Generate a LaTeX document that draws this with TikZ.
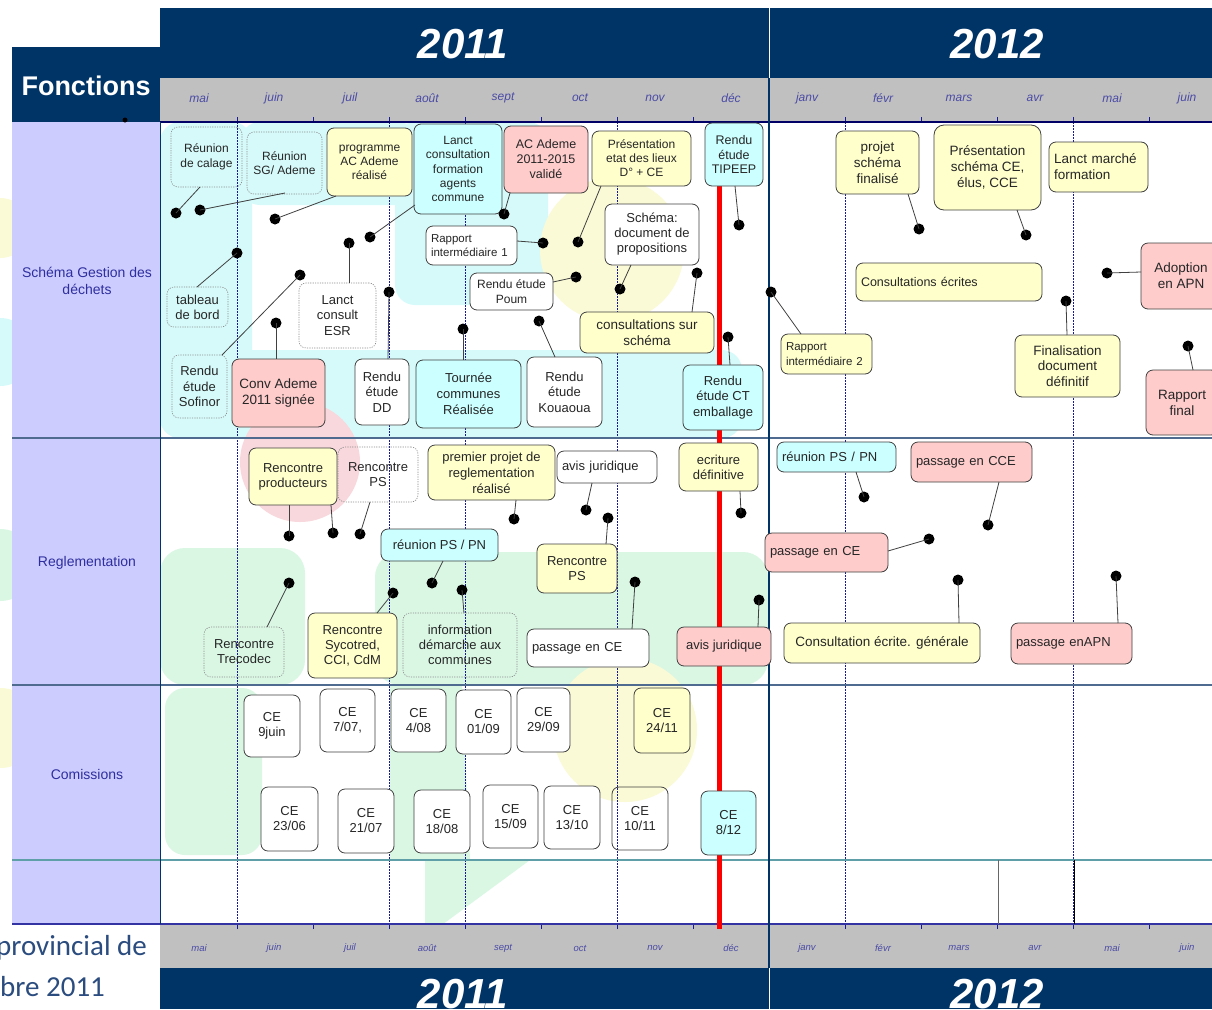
\documentclass[tikz,border=0pt]{standalone}
\usepackage{fontspec}
\setmainfont{Liberation Sans}
\newfontfamily\calib{Carlito}
\usetikzlibrary{calc}
\definecolor{navy}{HTML}{003366}
\definecolor{lav}{HTML}{CCCCFF}
\definecolor{bandgrey}{HTML}{C0C0C0}
\definecolor{boxyel}{HTML}{FFFFCC}
\definecolor{boxpink}{HTML}{FFCCCC}
\definecolor{boxcyan}{HTML}{CCFFFF}
\definecolor{monthc}{HTML}{4B4BA6}
\definecolor{labc}{HTML}{2E2E9E}
\definecolor{rowc}{HTML}{4F6B8F}
\definecolor{tealc}{HTML}{5E9FA8}
\definecolor{bgcyan}{HTML}{D6FAFA}
\definecolor{bgyel}{HTML}{FAFAD6}
\definecolor{bgpink}{HTML}{F8D8DC}
\definecolor{bggreen}{HTML}{DAF7E4}
\definecolor{foot}{HTML}{2B4C7E}
\definecolor{dotln}{HTML}{1A1A99}
\newcommand\fs[2]{\fontsize{#1}{#2}\selectfont}
\tikzset{
  bx/.style={draw=black!75, line width=0.8pt, rounded corners=7pt, align=center,
    inner sep=1pt, outer sep=0pt, font=\fs{13}{15}, text=black!85},
  wb/.style={bx, fill=white},
  yb/.style={bx, fill=boxyel},
  pb/.style={bx, fill=boxpink},
  cb/.style={bx, fill=boxcyan},
  db/.style={bx, draw=black!45, dash pattern=on 1.2pt off 1.2pt, line width=0.6pt},
  dot/.style={circle, fill=black, minimum size=11pt, inner sep=0pt, outer sep=0pt},
  conn/.style={draw=black!75, line width=0.8pt},
  mline/.style={draw=dotln, line width=0.8pt, dash pattern=on 1.5pt off 1.5pt},
  tickln/.style={draw=dotln, line width=0.8pt},
  rowln/.style={draw=rowc, line width=1.2pt},
  mtop/.style={font=\fs{12}{12}\itshape, text=monthc, inner sep=0pt},
  mbot/.style={font=\fs{9.5}{10}\itshape, text=monthc, inner sep=0pt},
  yr/.style={font=\fs{42}{42}\bfseries\itshape, text=white, inner sep=0pt},
  rowlab/.style={font=\fs{14}{16.5}, text=labc, align=center, inner sep=0pt},
}
% box: [extra] name style x1 y1 x2 y2 text
\newcommand\bx[8][]{\pgfmathsetmacro\bxw{#6-#4}\pgfmathsetmacro\bxh{#7-#5}%
  \node[#3,minimum width=\bxw pt,minimum height=\bxh pt,anchor=north west,#1] (#2) at (#4,#5) {#8};}
% left aligned box
\newcommand\bxl[8][]{\pgfmathsetmacro\bxw{#6-#4}\pgfmathsetmacro\bxh{#7-#5}\pgfmathsetmacro\bxt{#6-#4-10}%
  \node[#3,minimum width=\bxw pt,minimum height=\bxh pt,text width=\bxt pt,align=left,inner xsep=5pt,anchor=north west,#1] (#2) at (#4,#5) {#8};}
% dot
\newcommand\dt[3]{\node[dot] (#1) at (#2,#3) {};}
% connector: dot box dx dy (offset from box north west)
\newcommand\cn[4]{\draw[conn] (#1.center) -- ([xshift=#3pt,yshift=-#4pt]#2.north west);}
\begin{document}
\begin{tikzpicture}[x=1pt,y=-1pt]
\useasboundingbox (0,0) rectangle (1212,1009);
\fill[white] (0,0) rectangle (1212,1009);

% ---- soft background blobs
\fill[bgyel] (0,228) circle (30);
\fill[bgcyan] (0,352) circle (34);
\fill[bggreen] (0,565) circle (36);
\fill[bgyel] (0,728) circle (40);
\fill[bgcyan, rounded corners=20] (160,122) rectangle (252,438);
\fill[bgcyan, rounded corners=20] (240,122) rectangle (418,205);
\fill[bgcyan, rounded corners=20] (395,122) rectangle (548,305);
\fill[bgcyan, rounded corners=20] (160,350) rectangle (742,438);
\fill[bgyel] (612,250) circle (72);
\fill[bgpink] (300,462) circle (60);
\fill[bggreen, rounded corners=25] (160,548) rectangle (305,685);
\fill[bggreen, rounded corners=25] (375,552) rectangle (768,685);
\fill[bggreen, rounded corners=20] (165,688) rectangle (262,855);
\fill[bggreen] (390,686) -- (462,686) -- (470,860) -- (530,860) -- (435,930) -- (425,930) -- (425,860) -- (390,860) -- cycle;
\fill[bgyel] (625,730) circle (72);

% ---- frame
\fill[lav] (12,122) rectangle (160,924);
\fill[navy] (12,47) rectangle (160,122);
\fill[navy] (160,8) rectangle (1212,78);
\fill[bandgrey] (160,78) rectangle (1212,122);
\fill[bandgrey] (160,924) rectangle (1212,968);
\fill[navy] (160,968) rectangle (1212,1009);

\foreach \x in {237,389,465,617,845,1073} \draw[mline] (\x,122) -- (\x,924);
\foreach \x in {237,313,389,465,541,617,693,845,921,997,1073,1149} {
  \draw[tickln] (\x,117) -- (\x,123);
  \draw[tickln] (\x,923) -- (\x,929);
}
\draw[draw=blue!40!black, line width=1.2pt] (160,122) -- (1212,122);
\draw[rowln] (12,438) -- (1212,438);
\draw[rowln] (12,685) -- (1212,685);
\draw[draw=tealc, line width=1.2pt] (12,860) -- (1212,860);
\draw[draw=blue!55!black!80, line width=1.8pt] (12,924) -- (1212,924);
\draw[draw=navy, line width=1pt] (160,122) -- (160,924);
\draw[draw=navy, line width=1.2pt] (769,78) -- (769,968);
\draw[draw=white, line width=1pt] (769,8) -- (769,78);
\draw[draw=white, line width=1pt] (769,968) -- (769,1009);
\draw[draw=black!60, line width=1pt] (998,860) -- (998,924);
\draw[draw=black, line width=1pt] (1074,860) -- (1074,924);
\draw[draw=red, line width=5pt] (719,130) -- (719,929);

% ---- headers
\node[font=\fs{27}{27}\bfseries, text=white, inner sep=0pt] (fonct) at (86,86) {Fonctions};
\node[circle, fill=black, minimum size=5pt, inner sep=0pt] (fdot) at (125,120) {};
\node[yr] (y1) at (463,44) {2011};
\node[yr] (y2) at (997,44) {2012};
\node[yr] (y3) at (463,994) {2011};
\node[yr] (y4) at (997,994) {2012};
\foreach \x/\m [count=\i] in {199/mai,274/juin,350/juil,427/août,503/sept,580/oct,655/nov,731/déc,807/janv,883/févr,959/mars,1035/avr,1112/mai,1187/juin} {
  \node[mtop] (mt\i) at (\x,98) {\m};
  \node[mbot] (mb\i) at (\x,948) {\m};
}
\node[rowlab] (l1) at (87,281) {Schéma Gestion des\\déchets};
\node[rowlab] (l2) at (87,563) {Reglementation};
\node[rowlab] (l3) at (87,774) {Comissions};
\node[font=\calib\fs{29}{29}, text=foot, anchor=base west, inner sep=0pt] (ft1) at (-4,955) {provincial de};
\node[font=\calib\fs{29}{29}, text=foot, anchor=base west, inner sep=0pt] (ft2) at (0,996) {bre 2011};

% ---- Schéma row boxes
\bx[font=\fs{12}{14.5}]{rc}{db}{171}{127}{242}{187}{Réunion\\de calage}
\bx[font=\fs{12}{14.5}]{rsg}{db}{247}{132}{322}{194}{Réunion\\SG/ Ademe}
\bx[font=\fs{12}{14}]{prg}{yb}{327}{128}{412}{196}{programme\\AC Ademe\\réalisé}
\bx[font=\fs{12}{14.2}]{lcf}{cb}{414}{124}{502}{214}{Lanct\\consultation\\formation\\agents\\commune}
\bx[font=\fs{12.5}{15}]{aca}{pb}{504}{126}{588}{193}{AC Ademe\\2011-2015\\validé}
\bx[font=\fs{12}{14}]{pel}{yb}{592}{131}{691}{186}{Présentation\\etat des lieux\\D° + CE}
\bx[font=\fs{12.5}{14.5}]{tip}{cb}{705}{123}{763}{186}{Rendu\\étude\\TIPEEP}
\bxl[font=\fs{11.5}{14}]{ri1}{wb}{426}{226}{517}{265}{Rapport\\intermédiaire 1}
\bx[font=\fs{13}{15}]{sdp}{wb}{605}{204}{699}{265}{Schéma:\\document de\\propositions}
\bx[font=\fs{12}{14.5}]{poum}{wb}{470}{273}{553}{310}{Rendu étude\\Poum}
\bx[font=\fs{13.5}{15.5}]{css}{yb}{580}{312}{714}{353}{consultations sur\\schéma}
\bx[font=\fs{13}{15}]{tdb}{db}{167}{287}{228}{327}{tableau\\de bord}
\bx[font=\fs{13}{15.5}]{esr}{db}{299}{283}{376}{348}{Lanct\\consult\\ESR}
\bx[font=\fs{13}{15.5}]{sof}{db}{172}{355}{227}{418}{Rendu\\étude\\Sofinor}
\bx[font=\fs{13.5}{16}]{conv}{pb}{232}{359}{325}{427}{Conv Ademe\\2011 signée}
\bx[font=\fs{13}{15.5}]{dd}{wb}{355}{359}{409}{425}{Rendu\\étude\\DD}
\bx[font=\fs{13}{16}]{tour}{cb}{416}{360}{521}{428}{Tournée\\communes\\Réalisée}
\bx[font=\fs{13}{15.5}]{kou}{wb}{527}{357}{602}{427}{Rendu\\étude\\Kouaoua}
\bx[font=\fs{13}{15.5}]{ct}{cb}{683}{365}{763}{430}{Rendu\\étude CT\\emballage}
\bx[font=\fs{13.5}{16}]{psf}{yb}{836}{131}{919}{194}{projet\\schéma\\finalisé}
\bx[font=\fs{13.5}{16}, rounded corners=10pt]{psc}{yb}{934}{125}{1041}{210}{Présentation\\schéma CE,\\élus, CCE}
\bxl[font=\fs{13.5}{16}]{lmf}{yb}{1049}{142}{1148}{192}{Lanct marché\\formation}
\bxl[font=\fs{12.5}{15}]{cec}{yb}{856}{263}{1042}{301}{Consultations écrites}
\bxl[font=\fs{11.5}{15}, inner xsep=3pt]{ri2}{yb}{781}{334}{872}{374}{Rapport\\intermédiaire\ 2}
\bx[font=\fs{13.5}{16}]{apn}{pb}{1141}{243}{1221}{309}{Adoption\\en APN}
\bx[font=\fs{13.5}{15.5}]{fin}{yb}{1015}{335}{1120}{397}{Finalisation\\document\\définitif}
\bx[font=\fs{13.5}{16}]{rf}{pb}{1146}{370}{1218}{435}{Rapport\\final}

% ---- Reglementation row boxes
\bx{rp}{yb}{249}{448}{337}{505}{Rencontre\\producteurs}
\bx{rpsa}{db}{338}{447}{418}{502}{Rencontre\\PS}
\bx[font=\fs{13}{16}]{ppr}{yb}{428}{445}{555}{500}{premier projet de\\reglementation\\réalisé}
\bxl{aja}{wb}{557}{451}{657}{483}{avis juridique}
\bx{rpna}{cb}{381}{529}{498}{561}{réunion PS / PN}
\bx{rpsb}{yb}{537}{544}{617}{593}{Rencontre\\PS}
\bx{trec}{db}{204}{627}{284}{677}{Rencontre\\Trecodec}
\bx{syc}{yb}{308}{613}{397}{678}{Rencontre\\Sycotred,\\CCI, CdM}
\bx{inf}{db}{403}{613}{517}{677}{information\\démarche aux\\communes}
\bxl{pcea}{wb}{527}{629}{649}{667}{passage en CE}
\bx{ecr}{yb}{679}{443}{758}{491}{ecriture\\définitive}
\bx{ajb}{pb}{677}{627}{771}{666}{avis juridique}
\bxl{rpnb}{cb}{777}{442}{896}{472}{réunion PS / PN}
\bxl{pcce}{pb}{911}{442}{1032}{482}{passage en CCE}
\bxl{pceb}{pb}{765}{533}{888}{572}{passage en CE}
\bx[font=\fs{13.5}{15}]{ceg}{yb}{784}{623}{980}{663}{Consultation écrite. générale}
\bxl{papn}{pb}{1011}{623}{1132}{664}{passage enAPN}

% ---- Comissions
\bx{c1}{wb}{244}{695}{300}{757}{CE\\9juin}
\bx{c2}{wb}{320}{689}{375}{752}{CE\\7/07,}
\bx{c3}{wb}{391}{689}{446}{752}{CE\\4/08}
\bx{c4}{wb}{456}{690}{511}{754}{CE\\01/09}
\bx{c5}{wb}{517}{688}{570}{752}{CE\\29/09}
\bx{c6}{yb}{634}{688}{690}{753}{CE\\24/11}
\bx{c7}{wb}{261}{787}{318}{851}{CE\\23/06}
\bx{c8}{wb}{338}{789}{394}{853}{CE\\21/07}
\bx{c9}{wb}{414}{790}{470}{853}{CE\\18/08}
\bx{c10}{wb}{483}{785}{538}{848}{CE\\15/09}
\bx{c11}{wb}{544}{786}{600}{849}{CE\\13/10}
\bx{c12}{bx}{612}{787}{668}{850}{CE\\10/11}
\bx{c13}{cb}{701}{791}{756}{855}{CE\\8/12}

% ---- dots
\dt{d1}{176}{213} \dt{d2}{200}{210} \dt{d3}{275}{219} \dt{d4}{370}{237}
\dt{d5}{504}{214} \dt{d6}{578}{242} \dt{d7}{739}{225} \dt{d8}{543}{243}
\dt{d9}{620}{289} \dt{d10}{576}{277} \dt{d11}{697}{273} \dt{d12}{237}{253}
\dt{d13}{349}{243} \dt{d14}{300}{275} \dt{d15}{276}{323} \dt{d16}{389}{292}
\dt{d17}{463}{329} \dt{d18}{539}{321} \dt{d19}{728}{337} \dt{d20}{919}{229}
\dt{d21}{1026}{235} \dt{d22}{771}{292} \dt{d23}{1107}{273} \dt{d24}{1066}{301}
\dt{d25}{1188}{346}
\dt{d26}{289}{536} \dt{d27}{333}{533} \dt{d28}{360}{534} \dt{d29}{514}{519}
\dt{d30}{432}{583} \dt{d31}{289}{583} \dt{d32}{393}{593} \dt{d33}{462}{590}
\dt{d34}{586}{510} \dt{d35}{608}{518} \dt{d36}{635}{582} \dt{d37}{741}{513}
\dt{d38}{759}{600} \dt{d39}{864}{497} \dt{d40}{988}{525} \dt{d41}{929}{539}
\dt{d42}{958}{580} \dt{d43}{1116}{576}

% ---- connectors
\cn{d1}{rc}{29}{60} \cn{d2}{rsg}{38}{61} \cn{d3}{prg}{9}{68} \cn{d4}{lcf}{1}{81}
\cn{d5}{aca}{6}{67} \cn{d6}{pel}{9}{55} \cn{d7}{tip}{30}{63} \cn{d8}{ri1}{91}{15}
\cn{d9}{sdp}{26}{61} \cn{d10}{poum}{83}{9} \cn{d11}{css}{112}{0} \cn{d12}{tdb}{30}{0}
\cn{d13}{esr}{50}{0} \cn{d14}{sof}{50}{0} \cn{d15}{conv}{44}{0} \cn{d16}{dd}{33}{0}
\cn{d17}{tour}{47}{0} \cn{d18}{kou}{28}{0} \cn{d19}{ct}{47}{0} \cn{d20}{psf}{72}{63}
\cn{d21}{psc}{83}{85} \cn{d22}{ri2}{20}{0} \cn{d23}{apn}{0}{29} \cn{d24}{fin}{52}{0}
\cn{d25}{rf}{47}{0}
\cn{d26}{rp}{40}{57} \cn{d27}{rp}{82}{57} \cn{d28}{rpsa}{32}{55} \cn{d29}{ppr}{88}{55}
\cn{d30}{rpna}{62}{32} \cn{d31}{trec}{63}{0} \cn{d32}{syc}{69}{0} \cn{d33}{inf}{61}{0}
\cn{d34}{aja}{35}{32} \cn{d35}{rpsb}{69}{0} \cn{d36}{pcea}{105}{0} \cn{d37}{ecr}{61}{48}
\cn{d38}{ajb}{81}{0} \cn{d39}{rpnb}{79}{30} \cn{d40}{pcce}{88}{40} \cn{d41}{pceb}{123}{18}
\cn{d42}{ceg}{175}{0} \cn{d43}{papn}{107}{0}
\end{tikzpicture}
\end{document}
